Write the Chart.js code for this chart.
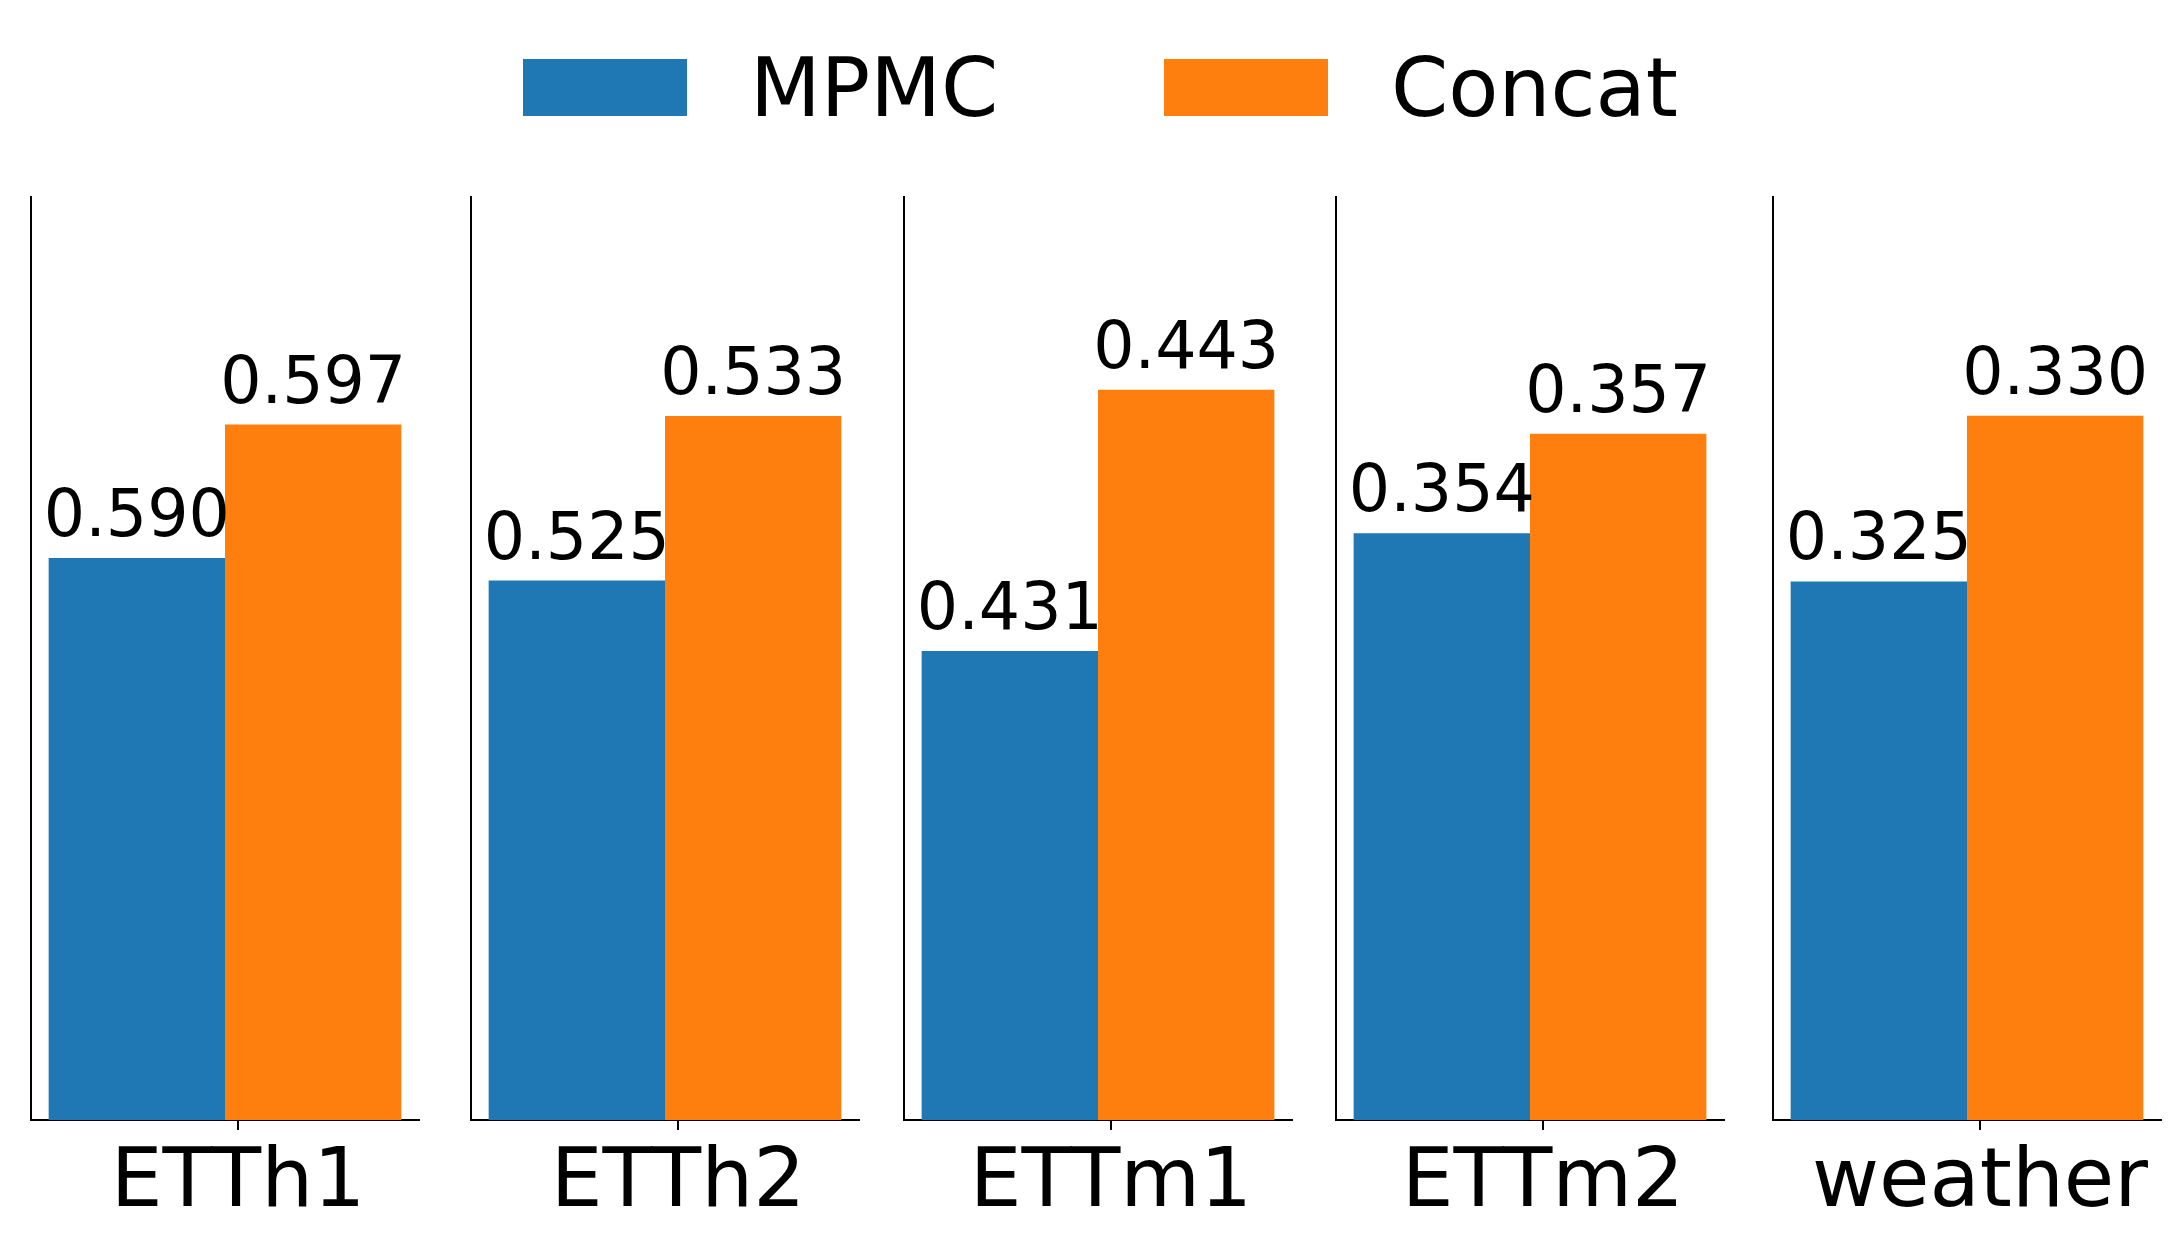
<!DOCTYPE html>
<html>
<head>
<meta charset="utf-8">
<script src="https://cdn.jsdelivr.net/npm/chart.js@4/dist/chart.umd.min.js"></script>
<style>
  body { margin: 0; background: #fff; width: 2180px; height: 1240px; overflow: hidden; position: relative; font-family: 'DejaVu Sans', sans-serif; }
  canvas { position: absolute; }
  .patch { position: absolute; width: 164px; height: 57px; }
  .ltext { position: absolute; font-size: 82px; line-height: 82px; color: #000; white-space: nowrap; }
</style>
</head>
<body>
<div class="patch" style="left:523px; top:59px; background:#1f77b4"></div>
<div class="ltext" style="left:750px; top:47px">MPMC</div>
<div class="patch" style="left:1164px; top:59px; background:#ff7f0e"></div>
<div class="ltext" style="left:1391px; top:47px">Concat</div>

<script>
const categories = ['ETTh1', 'ETTh2', 'ETTm1', 'ETTm2', 'weather'];
const mpmc = [0.590, 0.525, 0.431, 0.354, 0.325];
const concat = [0.597, 0.533, 0.443, 0.357, 0.330];

// panel placement on the page
const panelLeft = [31, 471, 904, 1336, 1773];
const panelWidth = 388;
const pad = 4;
// the tick sits a little right of the bar pair's middle (fraction of panel)
const tickShift = 0.0335;

// value labels above each bar
const barLabels = {
    id: 'barLabels',
    afterDatasetsDraw(chart) {
        const ctx = chart.ctx;
        ctx.save();
        ctx.font = '65px "DejaVu Sans"';
        ctx.fillStyle = '#000';
        ctx.textAlign = 'center';
        ctx.textBaseline = 'alphabetic';
        chart.data.datasets.forEach((ds, i) => {
            chart.getDatasetMeta(i).data.forEach((bar, j) => {
                ctx.fillText(ds.data[j].toFixed(3), bar.x, bar.y - 22);
            });
        });
        ctx.restore();
    }
};

categories.forEach((cat, i) => {
    const canvas = document.createElement('canvas');
    canvas.width = panelWidth + pad * 2;
    canvas.height = 1050;
    canvas.style.left = (panelLeft[i] - pad) + 'px';
    canvas.style.top = '190px';
    document.body.appendChild(canvas);

    const lo = Math.min(mpmc[i], concat[i]) * 0.95;
    const hi = Math.max(mpmc[i], concat[i]) * 1.02;

    new Chart(canvas, {
        type: 'bar',
        data: {
            labels: [cat],
            datasets: [
                { label: 'MPMC', data: [mpmc[i]], backgroundColor: '#1f77b4', categoryPercentage: 0.909, barPercentage: 1 },
                { label: 'Concat', data: [concat[i]], backgroundColor: '#ff7f0e', categoryPercentage: 0.909, barPercentage: 1 }
            ]
        },
        options: {
            responsive: false,
            animation: false,
            devicePixelRatio: 1,
            layout: { padding: { left: pad, right: pad, top: 7, bottom: 0 } },
            plugins: { legend: { display: false }, tooltip: { enabled: false } },
            scales: {
                x: { display: false },
                xt: {
                    type: 'linear',
                    position: 'bottom',
                    min: -0.5,
                    max: 0.5,
                    bounds: 'data',
                    offset: false,
                    grid: { offset: false, drawOnChartArea: false, drawTicks: true, tickLength: 10, color: '#000', lineWidth: 2 },
                    border: { display: true, color: '#000', width: 2 },
                    ticks: { color: '#000', font: { family: 'DejaVu Sans', size: 82 }, padding: 6, maxRotation: 0, callback: () => cat },
                    afterBuildTicks(scale) { scale.ticks = [{ value: tickShift }]; },
                    afterFit(scale) { scale.height = 120; }
                },
                y: {
                    min: lo,
                    max: hi,
                    bounds: 'data',
                    grid: { display: false, drawTicks: false },
                    border: { display: true, color: '#000', width: 2 },
                    ticks: { display: false }
                }
            }
        },
        plugins: [barLabels]
    });
});
</script>
</body>
</html>
